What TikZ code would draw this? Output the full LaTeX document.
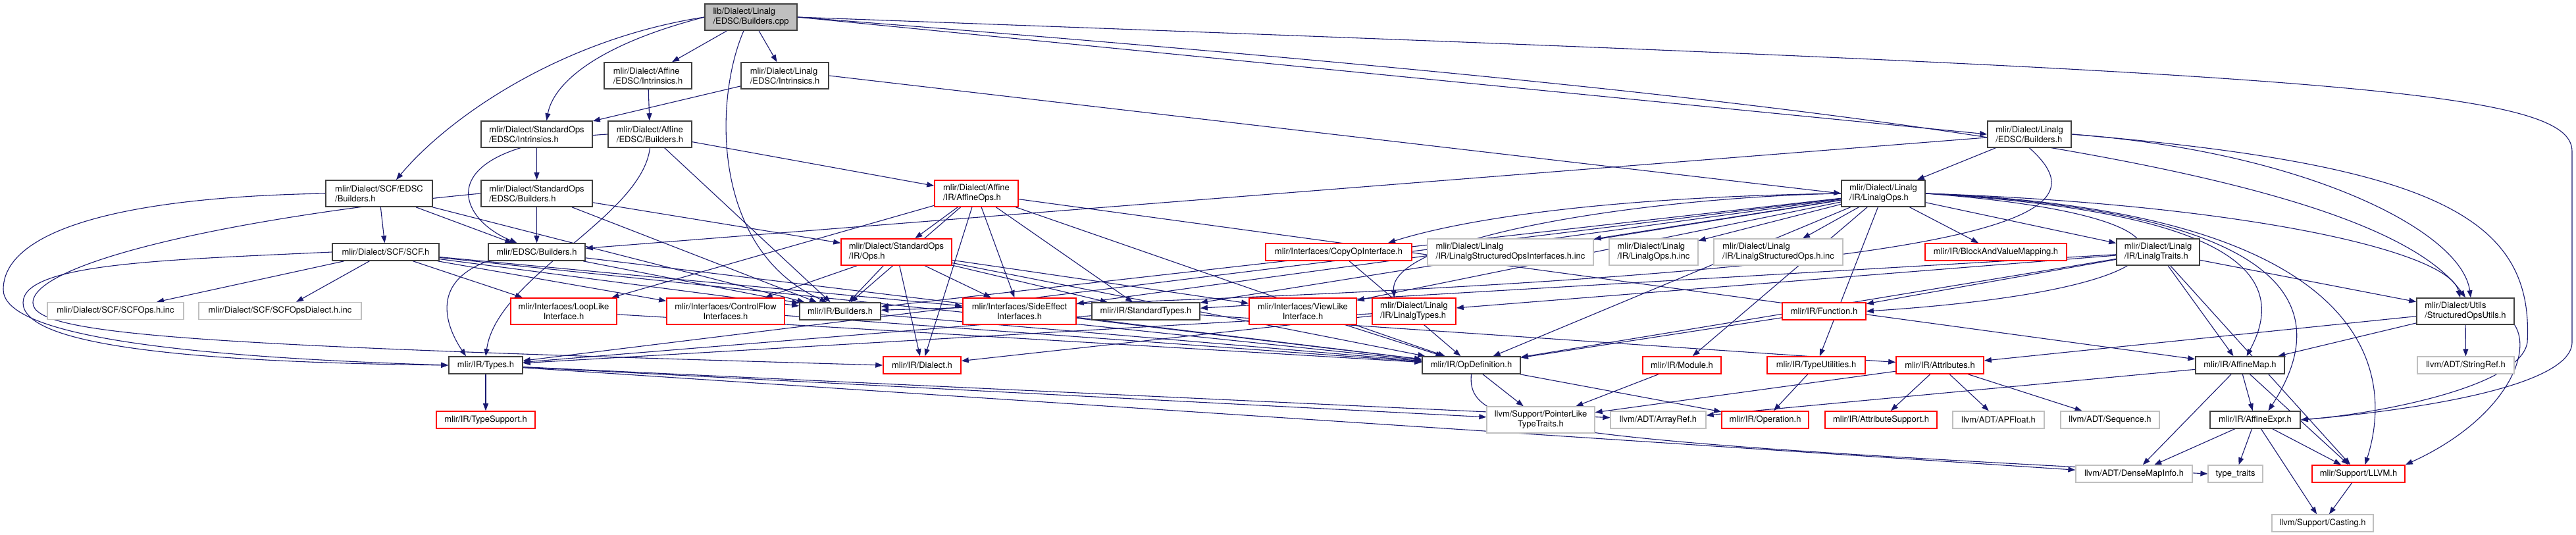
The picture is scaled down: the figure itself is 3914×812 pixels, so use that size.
\documentclass[tikz,border=0pt]{standalone}
\usepackage{fontspec}
\setmainfont{TeX Gyre Heros}
\usepackage{tikz}
\usetikzlibrary{arrows.meta, backgrounds}
\definecolor{edgeblue}{HTML}{191970}
\definecolor{hdrdark}{HTML}{404040}
\definecolor{hdrred}{HTML}{FF0000}
\definecolor{hdrgray}{HTML}{BFBFBF}
\tikzstyle{hdrbox} = [rectangle, draw=hdrdark, line width=1.6pt, minimum height=26, inner sep=0pt,
  align=left, fill=white, font=\fontsize{13}{15}\selectfont]
\tikzstyle{redbox} = [hdrbox, draw=hdrred]
\tikzstyle{graybox} = [hdrbox, draw=hdrgray, line width=1.3pt]
\tikzstyle{rootbox} = [hdrbox, fill=hdrgray]
\tikzstyle{tall} = [minimum height=40]
\tikzstyle{arrow} = [draw=edgeblue, line width=1.1pt, -{Triangle[length=11pt, width=8pt]}]

\begin{document}
\begin{tikzpicture}[x=1pt, y=-1pt]
  \useasboundingbox (0,0) rectangle (3914,812);

  % top rows
  \node (root) [rootbox, tall, minimum width=140] at (1141,26) {lib/Dialect/Linalg\\/EDSC/Builders.cpp};
  \node (affIntr) [hdrbox, tall, minimum width=133] at (984.5,115) {mlir/Dialect/Affine\\/EDSC/Intrinsics.h};
  \node (linIntr) [hdrbox, tall, minimum width=133] at (1192.5,115) {mlir/Dialect/Linalg\\/EDSC/Intrinsics.h};
  \node (stdIntr) [hdrbox, tall, minimum width=169] at (815.5,204) {mlir/Dialect/StandardOps\\/EDSC/Intrinsics.h};
  \node (affBld) [hdrbox, tall, minimum width=127] at (987.5,204) {mlir/Dialect/Affine\\/EDSC/Builders.h};
  \node (linBld) [hdrbox, tall, minimum width=127] at (3083.5,204) {mlir/Dialect/Linalg\\/EDSC/Builders.h};
  \node (stdBld) [hdrbox, tall, minimum width=169] at (815.5,294) {mlir/Dialect/StandardOps\\/EDSC/Builders.h};
  \node (scfBld) [hdrbox, tall, minimum width=162] at (576,294) {mlir/Dialect/SCF/EDSC\\/Builders.h};
  \node (affineOps) [redbox, tall, minimum width=127] at (1483.5,294) {mlir/Dialect/Affine\\/IR/AffineOps.h};
  \node (linOps) [hdrbox, tall, minimum width=127] at (2861.5,294) {mlir/Dialect/Linalg\\/IR/LinalgOps.h};

  % middle rows
  \node (scf) [hdrbox, minimum width=162] at (586,383) {mlir/Dialect/SCF/SCF.h};
  \node (edscBld) [hdrbox, minimum width=147] at (815.5,383) {mlir/EDSC/Builders.h};
  \node (stdOps) [redbox, tall, minimum width=168] at (1362,383) {mlir/Dialect/StandardOps\\/IR/Ops.h};
  \node (copyOp) [redbox, minimum width=222] at (2034,383) {mlir/Interfaces/CopyOpInterface.h};
  \node (linStructIfInc) [graybox, tall, minimum width=252] at (2295,383) {mlir/Dialect/Linalg\\/IR/LinalgStructuredOpsInterfaces.h.inc};
  \node (linOpsInc) [graybox, tall, minimum width=135] at (2512.5,383) {mlir/Dialect/Linalg\\/IR/LinalgOps.h.inc};
  \node (linStructInc) [graybox, tall, minimum width=196] at (2702,383) {mlir/Dialect/Linalg\\/IR/LinalgStructuredOps.h.inc};
  \node (blockMap) [redbox, minimum width=215] at (3032.5,383) {mlir/IR/BlockAndValueMapping.h};
  \node (linTraits) [hdrbox, tall, minimum width=126] at (3279,383) {mlir/Dialect/Linalg\\/IR/LinalgTraits.h};

  \node (scfOpsInc) [graybox, minimum width=207] at (175.5,472.5) {mlir/Dialect/SCF/SCFOps.h.inc};
  \node (scfDialInc) [graybox, minimum width=247] at (425.5,472.5) {mlir/Dialect/SCF/SCFOpsDialect.h.inc};
  \node (loopLike) [redbox, tall, align=center, minimum width=161] at (856.5,473) {mlir/Interfaces/LoopLike\\Interface.h};
  \node (ctrlFlow) [redbox, tall, align=center, minimum width=179] at (1102.5,473) {mlir/Interfaces/ControlFlow\\Interfaces.h};
  \node (irBld) [hdrbox, minimum width=123] at (1276.5,473) {mlir/IR/Builders.h};
  \node (sideEff) [redbox, tall, align=center, minimum width=172] at (1549,473) {mlir/Interfaces/SideEffect\\Interfaces.h};
  \node (stdTypes) [hdrbox, minimum width=164] at (1741,473) {mlir/IR/StandardTypes.h};
  \node (viewLike) [redbox, tall, align=center, minimum width=163] at (1979.5,473) {mlir/Interfaces/ViewLike\\Interface.h};
  \node (linTypes) [redbox, tall, minimum width=127] at (2148.5,473) {mlir/Dialect/Linalg\\/IR/LinalgTypes.h};
  \node (function) [redbox, minimum width=127] at (2771.5,473) {mlir/IR/Function.h};
  \node (structUtils) [hdrbox, tall, minimum width=148] at (3746,473) {mlir/Dialect/Utils\\/StructuredOpsUtils.h};

  % lower rows
  \node (types) [hdrbox, minimum width=112] at (738,555) {mlir/IR/Types.h};
  \node (dialect) [redbox, minimum width=118] at (1401,555) {mlir/IR/Dialect.h};
  \node (opDef) [hdrbox, minimum width=149] at (2235.5,555) {mlir/IR/OpDefinition.h};
  \node (module) [redbox, minimum width=119] at (2555.5,555) {mlir/IR/Module.h};
  \node (typeUtil) [redbox, minimum width=149] at (2759.5,555) {mlir/IR/TypeUtilities.h};
  \node (attrs) [redbox, minimum width=133] at (2947.5,555) {mlir/IR/Attributes.h};
  \node (affineMap) [hdrbox, minimum width=135] at (3403.5,555) {mlir/IR/AffineMap.h};
  \node (stringRef) [graybox, minimum width=147] at (3746.5,555) {llvm/ADT/StringRef.h};

  \node (typeSupport) [redbox, minimum width=150] at (738,638) {mlir/IR/TypeSupport.h};
  \node (ptrLike) [graybox, tall, align=center, minimum width=164] at (2341,638) {llvm/Support/PointerLike\\TypeTraits.h};
  \node (arrayRef) [graybox, minimum width=145] at (2519.5,638) {llvm/ADT/ArrayRef.h};
  \node (operation) [redbox, minimum width=132] at (2682,638) {mlir/IR/Operation.h};
  \node (attrSupport) [redbox, minimum width=170] at (2858,638) {mlir/IR/AttributeSupport.h};
  \node (apFloat) [graybox, minimum width=139] at (3036.5,638) {llvm/ADT/APFloat.h};
  \node (sequence) [graybox, minimum width=150] at (3206,638) {llvm/ADT/Sequence.h};
  \node (affineExpr) [hdrbox, minimum width=137] at (3426.5,638) {mlir/IR/AffineExpr.h};

  \node (denseMap) [graybox, minimum width=177] at (3242.5,720) {llvm/ADT/DenseMapInfo.h};
  \node (typeTraits) [graybox, minimum width=83] at (3396.5,720) {type\_traits};
  \node (llvmH) [redbox, minimum width=141] at (3583.5,720) {mlir/Support/LLVM.h};
  \node (casting) [graybox, minimum width=154] at (3529,795) {llvm/Support/Casting.h};

  \begin{scope}[on background layer]
  \fill[white] (0,0) rectangle (3914,812);

  % from the .cpp file
  \draw[arrow] (root) -- (affIntr);
  \draw[arrow] (root) -- (linIntr);
  \draw[arrow] (root.west) .. controls (900,70) and (840,130) .. ([xshift=15pt]stdIntr.north);
  \draw[arrow] (root.west) .. controls (850,60) and (680,180) .. ([xshift=26pt]scfBld.north);
  \draw[arrow] ([xshift=-11pt]root.south) .. controls (1085,150) and (1080,380) .. ([xshift=-20pt]irBld.north);
  \draw[arrow] (root.east) -- (linBld.west);
  \draw[arrow] (root.east) .. controls (2800,150) and (3600,250) .. (structUtils.north);
  \draw[arrow] (root.east) .. controls (3500,110) and (3908,130) .. (3908,230) -- (3908,520)
    .. controls (3908,590) and (3650,625) .. (affineExpr.east);

  % EDSC headers
  \draw[arrow] (affIntr) -- (affBld);
  \draw[arrow] (linIntr) -- (stdIntr);
  \draw[arrow] (linIntr.east) -- (linOps.west);
  \draw[arrow] (stdIntr) -- (stdBld);
  \draw[arrow] (affBld.west) .. controls (650,220) and (690,330) .. ([xshift=-30pt]edscBld.north);
  \draw[arrow] (affBld) -- (affineOps);
  \draw[arrow] (affBld) -- (irBld);
  \draw[arrow] (affBld.south) .. controls (975,330) and (755,420) .. (types.north);
  \draw[arrow] (stdBld) -- (edscBld);
  \draw[arrow] (stdBld) -- (stdOps);
  \draw[arrow] (stdBld) -- (irBld);
  \draw[arrow] (stdBld.west) .. controls (350,330) and (50,400) .. (50,460)
    .. controls (50,510) and (300,525) .. (dialect.west);
  \draw[arrow] (scfBld) -- (scf);
  \draw[arrow] (scfBld) -- (edscBld);
  \draw[arrow] (scfBld) -- (irBld);
  \draw[arrow] (scfBld.west) .. controls (150,300) and (5,360) .. (5,440)
    .. controls (5,500) and (200,540) .. (types.west);
  \draw[arrow] (edscBld.south west) .. controls (650,430) and (680,500) .. ([xshift=-30pt]types.north);
  \draw[arrow] (edscBld) -- (irBld);
  \draw[arrow] (edscBld) -- (opDef);
  \draw[arrow] (linBld) -- (linOps);
  \draw[arrow] (linBld) -- (edscBld);
  \draw[arrow] (linBld.south) .. controls (3200,330) and (3100,420) .. (irBld);
  \draw[arrow] (linBld.east) .. controls (3500,230) and (3740,350) .. ([xshift=8pt]structUtils.north);
  \draw[arrow] (linBld.east) .. controls (3700,250) and (3850,330) .. (3840,520)
    .. controls (3830,590) and (3600,630) .. (affineExpr.east);

  % SCF
  \draw[arrow] (scf) -- (scfOpsInc);
  \draw[arrow] (scf) -- (scfDialInc);
  \draw[arrow] (scf) -- (loopLike);
  \draw[arrow] (scf) -- (ctrlFlow);
  \draw[arrow] (scf) -- (irBld);
  \draw[arrow] (scf) -- (sideEff);
  \draw[arrow] (scf) -- (opDef);
  \draw[arrow] (scf.west) .. controls (250,395) and (35,400) .. (35,460)
    .. controls (35,520) and (250,550) .. (types.west);

  % Affine and standard ops
  \draw[arrow] (affineOps) -- (loopLike);
  \draw[arrow] (affineOps) -- (irBld);
  \draw[arrow] (affineOps) -- (stdOps);
  \draw[arrow] (affineOps) -- (dialect);
  \draw[arrow] (affineOps) -- (sideEff);
  \draw[arrow] (affineOps) -- (stdTypes);
  \draw[arrow] (affineOps) -- (opDef);
  \draw[arrow] (affineOps) -- (affineMap);
  \draw[arrow] (stdOps) -- (irBld);
  \draw[arrow] (stdOps) -- (dialect);
  \draw[arrow] (stdOps) -- (sideEff);
  \draw[arrow] (stdOps) -- (ctrlFlow);
  \draw[arrow] (stdOps) -- (viewLike);
  \draw[arrow] (stdOps) -- (stdTypes);
  \draw[arrow] (stdOps) -- (opDef);

  % interfaces and IR
  \draw[arrow] (loopLike) -- (opDef);
  \draw[arrow] (ctrlFlow) -- (opDef);
  \draw[arrow] (sideEff) -- (opDef);
  \draw[arrow] (viewLike) -- (opDef);
  \draw[arrow] (irBld) -- (opDef);
  \draw[arrow] (copyOp) -- (opDef);
  \draw[arrow] (function) -- (opDef);
  \draw[arrow] (linTypes) -- (dialect);
  \draw[arrow] (linTypes) -- (types);
  \draw[arrow] (stdTypes) -- (types);
  \draw[arrow] (stdTypes) -- (attrs);
  \draw[arrow] (types) -- (typeSupport);
  \draw[arrow] (types) -- (ptrLike);
  \draw[arrow] (types) -- (arrayRef);
  \draw[arrow] (types) -- (denseMap);
  \draw[arrow] (opDef) -- (ptrLike);
  \draw[arrow] (opDef) -- (operation);
  \draw[arrow] (opDef.south) .. controls (2228,650) and (2330,668) .. (typeTraits.west);
  \draw[arrow] (module) -- (ptrLike);
  \draw[arrow] (attrs) -- (attrSupport);
  \draw[arrow] (attrs) -- (apFloat);
  \draw[arrow] (attrs) -- (sequence);
  \draw[arrow] (attrs) -- (ptrLike);
  \draw[arrow] (typeUtil) -- (operation);

  % Linalg ops
  \draw[arrow] (linOps) -- (linTraits);
  \draw[arrow] (linOps.west) .. controls (2500,300) and (2110,360) .. ([xshift=-30pt]linTypes.north);
  \draw[arrow] (linOps) -- (blockMap);
  \draw[arrow] (linOps) -- (irBld);
  \draw[arrow] (linOps.east) .. controls (3400,330) and (3350,440) .. (function.east);
  \draw[arrow] (linOps) -- (module);
  \draw[arrow] (linOps) -- (opDef);
  \draw[arrow] (linOps) -- (stdTypes);
  \draw[arrow] (linOps) -- (typeUtil);
  \draw[arrow] (linOps) -- (types);
  \draw[arrow] (linOps.west) .. controls (2400,300) and (2200,340) .. ([xshift=75pt]copyOp.north);
  \draw[arrow] (linOps) -- (sideEff);
  \draw[arrow] (linOps) -- (viewLike);
  \draw[arrow] (linOps) -- (linStructIfInc);
  \draw[arrow] (linOps) -- (linOpsInc);
  \draw[arrow] (linOps) -- (linStructInc);
  \draw[arrow] (linOps.east) .. controls (3400,310) and (3720,380) .. ([xshift=-8pt]structUtils.north);
  \draw[arrow] (linOps.east) .. controls (3350,320) and (3490,400) .. ([xshift=10pt]affineMap.north);
  \draw[arrow] (linOps.east) .. controls (3450,320) and (3560,450) .. ([xshift=20pt]affineExpr.north);
  \draw[arrow] (linOps.east) .. controls (3600,320) and (3640,560) .. ([xshift=10pt]llvmH.north);
  \draw[arrow] (linTraits) -- (linTypes);
  \draw[arrow] (linTraits) -- (structUtils);
  \draw[arrow] (linTraits) -- (affineMap);
  \draw[arrow] (linTraits) -- (function);
  \draw[arrow] (linTraits) -- (opDef);
  \draw[arrow] (linTraits) -- (stdTypes);
  \draw[arrow] (linTraits) -- (llvmH);

  % utils and affine IR
  \draw[arrow] (structUtils) -- (affineMap);
  \draw[arrow] (structUtils) -- (attrs);
  \draw[arrow] (structUtils) -- (stringRef);
  \draw[arrow] (structUtils.south east) .. controls (3850,540) and (3800,640) .. (llvmH.north east);
  \draw[arrow] (affineMap) -- (affineExpr);
  \draw[arrow] (affineMap) -- (denseMap);
  \draw[arrow] (affineMap) -- (llvmH);
  \draw[arrow] (affineMap) -- (arrayRef);
  \draw[arrow] (affineExpr) -- (llvmH);
  \draw[arrow] (affineExpr) -- (denseMap);
  \draw[arrow] (affineExpr) -- (casting);
  \draw[arrow] (affineExpr) -- (typeTraits);
  \draw[arrow] (llvmH) -- (casting);
  \end{scope}
\end{tikzpicture}
\end{document}
